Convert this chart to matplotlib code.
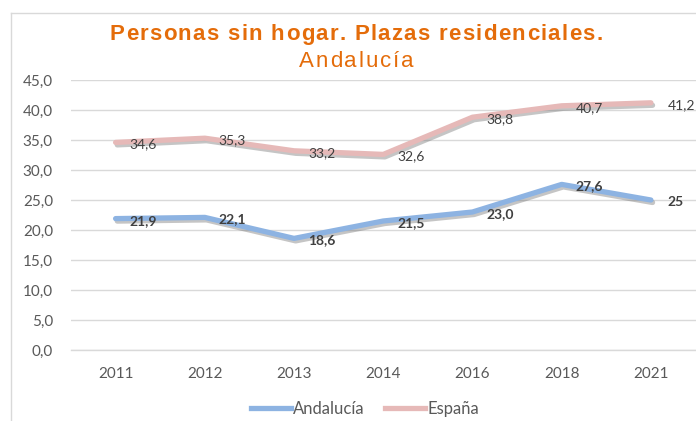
import matplotlib
matplotlib.use("Agg")
import matplotlib.pyplot as plt
import matplotlib.patheffects as pe
from matplotlib.lines import Line2D
from matplotlib.textpath import TextPath
from matplotlib.font_manager import FontProperties

years = ["2011", "2012", "2013", "2014", "2016", "2018", "2021"]
andalucia = [21.9, 22.1, 18.6, 21.5, 23.0, 27.6, 25.0]
espana = [34.6, 35.3, 33.2, 32.6, 38.8, 40.7, 41.2]
andalucia_labels = ["21,9", "22,1", "18,6", "21,5", "23,0", "27,6", "25"]
espana_labels = ["34,6", "35,3", "33,2", "32,6", "38,8", "40,7", "41,2"]
yticks = [0, 5, 10, 15, 20, 25, 30, 35, 40, 45]
title = "Personas sin hogar. Plazas residenciales."
subtitle = "Andalucía"

plt.rcParams['font.family'] = ['Lato', 'DejaVu Sans']

fig = plt.figure(figsize=(6.96, 4.21), dpi=100)
W, H = 696, 421
ax = fig.add_axes([71 / W, (H - 350) / H, (695.5 - 71) / W, 270 / H])

blue = "#8DB3E2"
pink = "#E6B9B8"
shadow = [pe.SimpleLineShadow(offset=(1.2, -1.8), shadow_color="#6f6f6f", alpha=0.4),
          pe.Normal()]

x = list(range(len(years)))
ax.plot(x, espana, color=pink, lw=3.8, solid_capstyle="round",
        solid_joinstyle="round", path_effects=shadow, zorder=3)
ax.plot(x, andalucia, color=blue, lw=3.8, solid_capstyle="round",
        solid_joinstyle="round", path_effects=shadow, zorder=3)

for i, (v, t) in enumerate(zip(espana, espana_labels)):
    dx = 12 if i == len(x) - 1 else 10
    ax.annotate(t, (i, v), xytext=(dx, -1.5), textcoords="offset points",
                ha="left", va="center", fontsize=10, color="#404040", zorder=5)
for i, (v, t) in enumerate(zip(andalucia, andalucia_labels)):
    dx = 12 if i == len(x) - 1 else 10
    ax.annotate(t, (i, v), xytext=(dx, -1.5), textcoords="offset points",
                ha="left", va="center", fontsize=10, color="#404040",
                fontweight="bold", zorder=5)

ax.set_xlim(-0.5, len(x) - 0.5)
ax.set_ylim(0, 45)
ax.set_yticks(yticks)
ax.set_yticklabels([f"{v:.1f}".replace(".", ",") for v in yticks])
ax.set_xticks(x)
ax.set_xticklabels(years)
ax.tick_params(axis="both", length=0, labelsize=11, labelcolor="#595959")
ax.tick_params(axis="y", pad=13)
ax.tick_params(axis="x", pad=12)
ax.grid(axis="y", color="#d9d9d9", lw=1)
ax.set_axisbelow(True)
for s in ["top", "right", "left"]:
    ax.spines[s].set_visible(False)
ax.spines["bottom"].set_color("#d9d9d9")
ax.spines["bottom"].set_linewidth(1)

# chart border (left and top visible)
fig.add_artist(Line2D([10.5 / W, 10.5 / W], [0, (H - 13) / H], color="#d9d9d9",
                      lw=1, transform=fig.transFigure))
fig.add_artist(Line2D([10.5 / W, 1], [(H - 13) / H, (H - 13) / H], color="#d9d9d9",
                      lw=1, transform=fig.transFigure))

orange = "#E46C0A"


def spaced_text(s, cx_px, base_px, size_pt, weight, spacing_px):
    fp = FontProperties(family="Liberation Sans", weight=weight, size=size_pt)
    scale = 100 / 72.0
    widths = []
    for ch in s:
        if ch == " ":
            w = TextPath((0, 0), "a a", prop=fp).get_extents().width - \
                TextPath((0, 0), "aa", prop=fp).get_extents().width
        else:
            tp = TextPath((0, 0), "|" + ch + "|", prop=fp)
            bar = TextPath((0, 0), "||", prop=fp)
            w = tp.get_extents().width - bar.get_extents().width
        widths.append(w * scale)
    total = sum(widths) + spacing_px * (len(s) - 1)
    xpos = cx_px - total / 2
    for ch, w in zip(s, widths):
        if ch != " ":
            fig.text(xpos / W, 1 - base_px / H, ch, ha="left", va="baseline",
                     fontproperties=fp, color=orange)
        xpos += w + spacing_px


spaced_text(title, 356, 40, 16, "bold", 1.3)
spaced_text(subtitle, 356, 67, 16, "normal", 2.0)

handles = [Line2D([], [], color=blue, lw=3.8), Line2D([], [], color=pink, lw=3.8)]
fig.legend(handles, ["Andalucía", "España"], loc="center", ncol=2,
           bbox_to_anchor=(365 / W, 1 - 409 / H), frameon=False, fontsize=12,
           handlelength=2.4, handletextpad=0.15, columnspacing=1.2,
           labelcolor="#595959")

fig.savefig("out.png", dpi=100)
